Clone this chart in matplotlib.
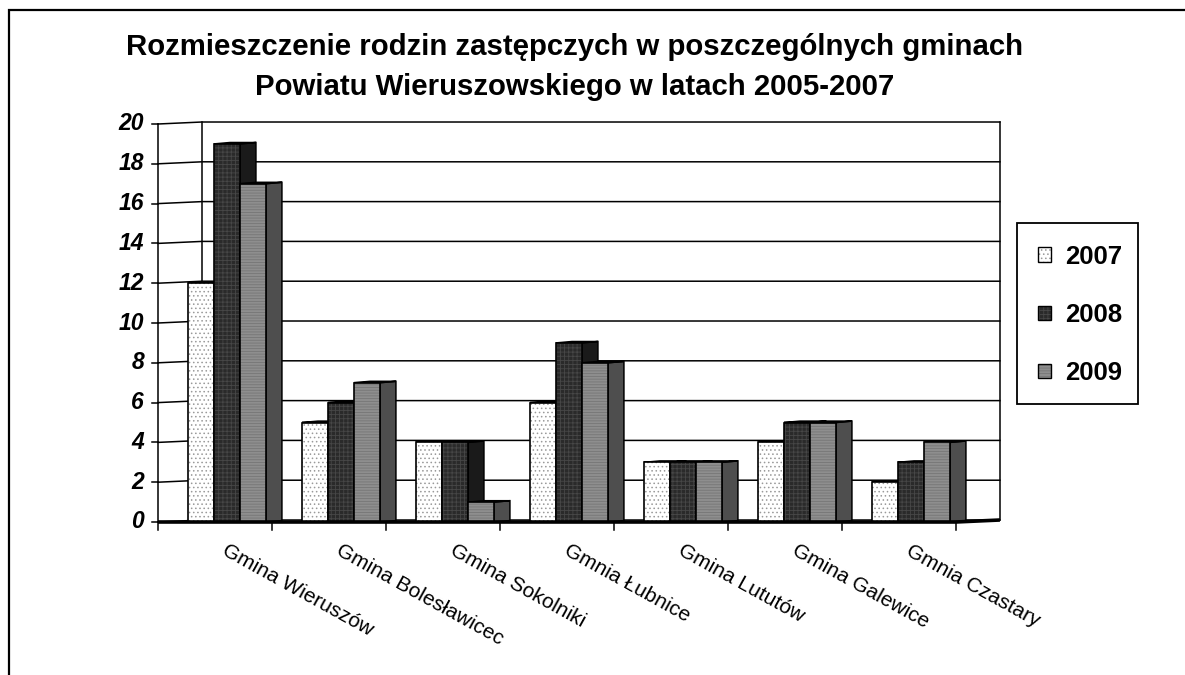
import matplotlib
matplotlib.use("Agg")
import matplotlib.pyplot as plt
from matplotlib.patches import Polygon, Patch, Rectangle

plt.rcParams['font.family'] = ['Liberation Sans', 'DejaVu Sans']
plt.rcParams['hatch.linewidth'] = 0.6

# data
gminy = ["Gmina Wieruszów", "Gmina Bolesławicec", "Gmina Sokolniki", "Gmnia Łubnice",
         "Gmina Lututów", "Gmina Galewice", "Gmnia Czastary"]
lata = ["2007", "2008", "2009"]
v2007 = [12, 5, 4, 6, 3, 4, 2]
v2008 = [19, 6, 4, 9, 3, 5, 3]
v2009 = [17, 7, 1, 8, 3, 5, 4]
y_ticks = [0, 2, 4, 6, 8, 10, 12, 14, 16, 18, 20]

title1 = "Rozmieszczenie rodzin zastępczych w poszczególnych gminach"
title2 = "Powiatu Wieruszowskiego w latach 2005-2007"

W, H = 1185, 675
fig = plt.figure(figsize=(W / 100, H / 100), dpi=100)
ax = fig.add_axes([0, 0, 1, 1])

# pixel -> data helpers (1 category = 114 px, 1 unit of value = 19.9 px)
def X(px):
    return (px - 215) / 114.0

def Y(py):
    return (522 - py) / 19.9

ax.set_xlim(X(0), X(W))
ax.set_ylim(Y(H), Y(0))
ax.axis("off")

n = len(gminy)
ymax = y_ticks[-1]
dx, dy = 0.385, 0.1          # depth of the 3d box
left, right = -0.5, n - 0.5

# outer frame (only left/top visible)
ax.plot([X(9), X(9), X(W + 5)], [Y(H + 5), Y(10), Y(10)], color="black", lw=1.6,
        solid_joinstyle="miter")

# walls + gridlines
for v in y_ticks:
    ax.plot([left, left + dx, right + dx], [v, v + dy, v + dy], color="black", lw=1.1, zorder=1)
    ax.plot([left - 0.05, left], [v, v], color="black", lw=1.1, zorder=1)
    ax.text(X(144), v, str(v), ha="right", va="center", fontsize=16.5,
            fontweight="bold", fontstyle="italic")
ax.plot([left, left], [0, ymax], color="black", lw=1.1, zorder=1)
ax.plot([left + dx, left + dx], [dy, ymax + dy], color="black", lw=1.1, zorder=1)
ax.plot([right + dx, right + dx], [dy, ymax + dy], color="black", lw=1.1, zorder=1)

# floor
ax.plot([left, right, right + dx], [0, 0, dy], color="black", lw=2.6, zorder=5,
        solid_capstyle="butt")
for k in range(n + 1):
    ax.plot([left + k, left + k], [0, -0.4], color="black", lw=1.1, zorder=5)

# bars
wf = 0.228      # front face width
ds = 0.14       # side face depth
es = 0.07       # side face rise
start = -0.237
styles = [
    # front face, hatch colour, hatch, side face
    ("white", "#9a9a9a", "....", "#d8d8d8"),
    ("#2a2a2a", "#474747", "++++", "#1a1a1a"),
    ("#8e8e8e", "#767676", "------", "#4e4e4e"),
]
series = [v2007, v2008, v2009]
for s, vals in enumerate(series):
    face, hcol, hatch, side = styles[s]
    xs = [i + start + s * wf for i in range(n)]
    for x0, v in zip(xs, vals):
        x1 = x0 + wf
        ax.add_patch(Polygon([(x1, 0), (x1 + ds, es), (x1 + ds, v + es), (x1, v)],
                             closed=True, facecolor=side, edgecolor="black", lw=1.1,
                             zorder=2 + s))
        ax.add_patch(Polygon([(x0, v), (x1, v), (x1 + ds, v + es), (x0 + ds, v + es)],
                             closed=True, facecolor=face, edgecolor="black", lw=1.1,
                             zorder=2 + s))
    ax.bar(xs, vals, width=wf, align="edge", color=face, edgecolor=hcol, hatch=hatch,
           lw=0, zorder=2 + s)
    ax.bar(xs, vals, width=wf, align="edge", fill=False, edgecolor="black", lw=1.2,
           zorder=2 + s)

# category labels
for i, name in enumerate(gminy):
    ax.text(i + 0.12, Y(541), name, rotation=-29, rotation_mode="anchor",
            ha="left", va="top", fontsize=15)

# title
fig.text(575 / W, 1 - 55 / H, title1, ha="center", va="baseline", fontsize=21.2,
         fontweight="bold")
fig.text(575 / W, 1 - 95 / H, title2, ha="center", va="baseline", fontsize=21.2,
         fontweight="bold")

# legend
ax.add_patch(Rectangle((X(1017), Y(404)), X(1138) - X(1017), Y(223) - Y(404),
                       fill=False, edgecolor="black", lw=1.3, zorder=6))
handles = []
for face, hcol, hatch, side in styles:
    handles.append((Patch(facecolor=face, edgecolor=hcol, hatch=hatch, lw=0),
                    Patch(fill=False, edgecolor="black", lw=1.0)))
leg = ax.legend(handles, lata, loc="center", bbox_to_anchor=(1080 / W, 1 - 315 / H),
                bbox_transform=fig.transFigure, frameon=False, handlelength=0.5,
                handleheight=0.5, handletextpad=0.55, labelspacing=1.33, borderpad=0,
                prop={"size": 18.5, "weight": "bold"})

fig.savefig("out.png", dpi=100)
